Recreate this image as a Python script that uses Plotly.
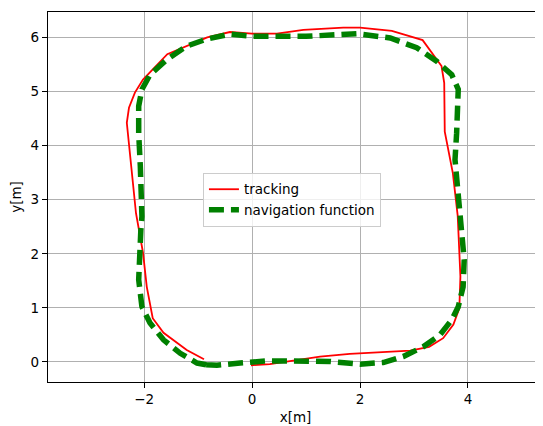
import plotly.graph_objects as go

# tracking trajectory (red)
tracking_x = [-0.02, 0.33, 1.26, 1.81, 2.93, 3.28, 3.54, 3.73, 3.84, 3.86, 3.81, 3.72, 3.57, 3.56,
              3.51, 3.33, 3.16, 2.59, 2.00, 1.69, 0.95, 0.46, 0.00, -0.41, -0.83, -1.57, -2.02,
              -2.17, -2.28, -2.32, -2.15, -2.02, -1.95, -1.84, -1.64, -1.21, -0.89]
tracking_y = [-0.06, -0.04, 0.10, 0.15, 0.21, 0.28, 0.44, 0.69, 0.99, 1.58, 2.70, 3.49, 4.26, 5.16,
              5.47, 5.72, 5.95, 6.12, 6.18, 6.18, 6.14, 6.07, 6.07, 6.10, 6.00, 5.69, 5.22,
              4.98, 4.70, 4.42, 2.75, 2.02, 1.39, 0.81, 0.54, 0.22, 0.05]

# navigation function trajectory (green dashed)
nav_x = [-0.85, -0.65, -0.22, 0.27, 0.70, 1.44, 2.00, 2.43, 2.80, 3.17, 3.48, 3.70, 3.82, 3.91,
         3.93, 3.85, 3.79, 3.76, 3.79, 3.82, 3.82, 3.70, 3.42, 3.05, 2.56, 1.94, 1.00, 0.33,
         0.02, -0.41, -0.84, -1.21, -1.58, -1.89, -2.04, -2.10, -2.10, -2.07, -2.04, -2.06,
         -2.07, -2.10, -2.04, -1.89, -1.64, -1.33, -1.02, -0.85]
nav_y = [-0.05, -0.06, -0.02, 0.02, 0.02, 0.01, -0.04, -0.01, 0.10, 0.28, 0.50, 0.78, 1.02, 1.39,
         1.89, 2.81, 3.25, 3.74, 4.23, 4.73, 5.04, 5.31, 5.56, 5.81, 5.99, 6.07, 6.02, 6.02,
         6.02, 6.06, 5.97, 5.84, 5.59, 5.31, 5.04, 4.73, 4.23, 3.62, 2.69, 2.44,
         2.01, 1.52, 1.02, 0.72, 0.41, 0.16, -0.02, -0.05]

x_ticks = [-2, 0, 2, 4]
y_ticks = [0, 1, 2, 3, 4, 5, 6]

font = dict(family="DejaVu Sans", size=13.5, color="black")

fig = go.Figure()
fig.add_trace(go.Scatter(x=tracking_x, y=tracking_y, mode="lines", name="tracking",
                         line=dict(color="red", width=1.8)))
fig.add_trace(go.Scatter(x=nav_x, y=nav_y, mode="lines", name="navigation function",
                         line=dict(color="green", width=5.5, dash="15px,7px")))

fig.update_layout(
    width=535, height=418,
    margin=dict(l=40, r=0, t=4, b=44),
    paper_bgcolor="white", plot_bgcolor="white",
    font=font,
    showlegend=True,
    legend=dict(x=0.313, y=0.565, xanchor="left", yanchor="top",
                bgcolor="rgba(255,255,255,0.8)", bordercolor="#cccccc", borderwidth=1,
                font=font, tracegroupgap=0),
    xaxis=dict(range=[-3.78, 5.39], tickvals=x_ticks, showgrid=True, gridcolor="#b0b0b0",
               gridwidth=1, zeroline=False, showline=True, linecolor="black", linewidth=1.2,
               mirror=True, ticks="outside", ticklen=5, tickcolor="black",
               title=dict(text="x[m]", font=font, standoff=6)),
    yaxis=dict(range=[-0.37, 6.47], tickvals=y_ticks, showgrid=True, gridcolor="#b0b0b0",
               gridwidth=1, zeroline=False, showline=True, linecolor="black", linewidth=1.2,
               ticks="outside", ticklen=5, tickcolor="black",
               title=dict(text="y[m]", font=font, standoff=8)),
)

fig.write_html("out.html")
